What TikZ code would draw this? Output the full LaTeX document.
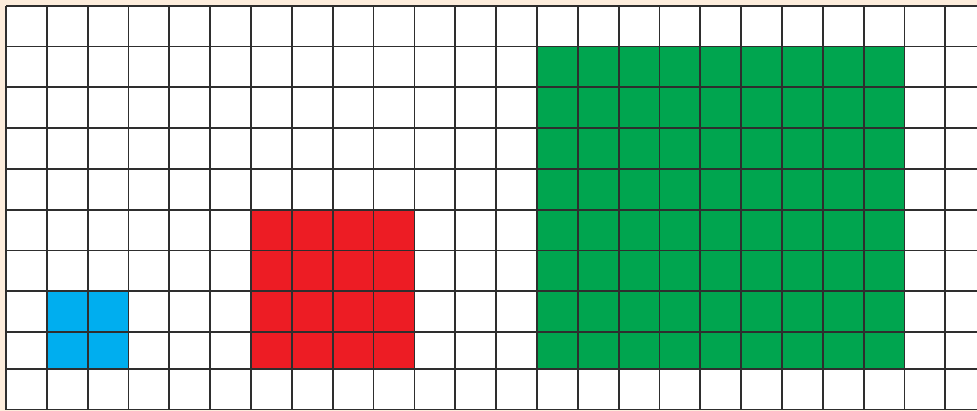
\documentclass[tikz,border=0pt]{standalone}
\definecolor{bgbeige}{HTML}{FDEDDC}
\definecolor{cblue}{HTML}{00AEEF}
\definecolor{cred}{HTML}{ED1C24}
\definecolor{cgreen}{HTML}{00A54F}
\definecolor{gridgray}{HTML}{2E2E2E}
\begin{document}
\begin{tikzpicture}[x=1pt,y=-1pt,
  gridline/.style={line width=1.8pt, draw=gridgray}]
\useasboundingbox (0,0) rectangle (977,411);
\fill[bgbeige] (0,0) rectangle (977,411);
\fill[white] (6,5.8) rectangle (977,409.5);
% coloured squares
\fill[cblue]  (46.84,291.26) rectangle (128.52,369);
\fill[cred]   (251.04,209.7) rectangle (414.4,369);
\fill[cgreen] (536.92,46.58) rectangle (904.48,369);
% vertical grid lines
\foreach \i in {0,...,23}
  \draw[gridline] ({6+40.84*\i},5.8) -- ({6+40.84*\i},409.5);
% horizontal grid lines
\foreach \yy in {5.8,46.58,87.36,128.14,168.92,209.7,250.48,291.26,332.04,369,409.5}
  \draw[gridline] (6,\yy) -- (977,\yy);
\end{tikzpicture}
\end{document}
